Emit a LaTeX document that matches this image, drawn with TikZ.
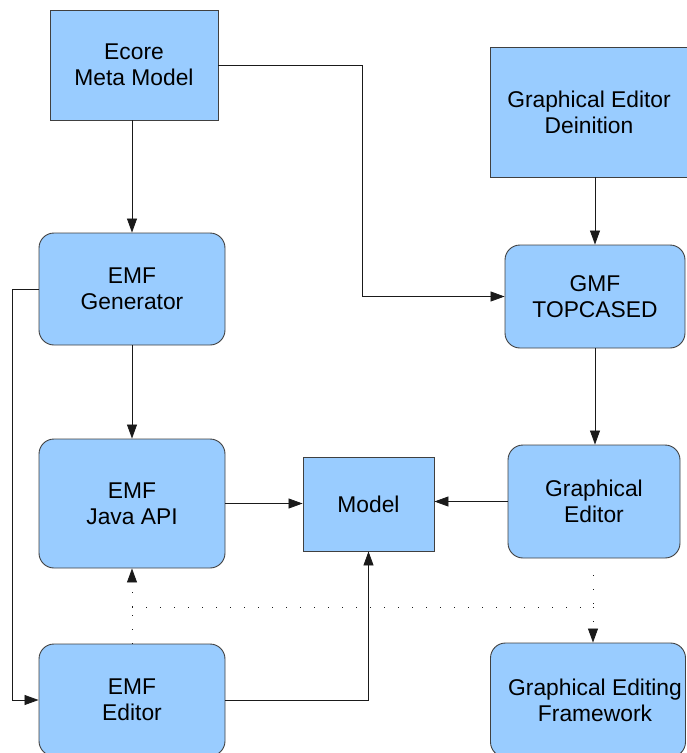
\documentclass[tikz,border=0pt]{standalone}
\usepackage{fontspec}
\setmainfont{Liberation Sans}
\usetikzlibrary{arrows.meta,calc}
\definecolor{boxfill}{HTML}{99CCFF}
\definecolor{boxline}{HTML}{404040}
\definecolor{conn}{HTML}{1A1A1A}
\tikzset{
  base/.style={draw=boxline, fill=boxfill, line width=0.9pt, align=center, inner sep=0pt,
    font=\fontsize{22.8}{26}\selectfont},
  sqbox/.style={base},
  rbox/.style={base, rounded corners=15pt},
  conn/.style={draw=conn, line width=0.8pt, -{Triangle[length=14pt,width=10pt]}},
  dotconn/.style={draw=conn, line width=1pt, dash pattern=on 1pt off 13pt}
}
\begin{document}
\begin{tikzpicture}[x=1pt,y=-1pt]
\useasboundingbox (0,0) rectangle (687,753);
\node[sqbox, minimum width=168pt, minimum height=110pt] (ecore) at (134,65) {Ecore\\Meta Model};
\node[sqbox, minimum width=198pt, minimum height=130pt] (ged) at (589,112) {Graphical Editor\\Deinition};
\node[rbox, minimum width=186pt, minimum height=112pt] (gen) at (132,289) {EMF\\Generator};
\node[rbox, minimum width=180pt, minimum height=103pt] (gmf) at (595,296.5) {GMF\\TOPCASED};
\node[rbox, minimum width=186pt, minimum height=129pt] (api) at (132,503.5) {EMF\\Java API};
\node[sqbox, minimum width=131pt, minimum height=94pt] (model) at (368.5,504) {Model};
\node[rbox, minimum width=172pt, minimum height=113pt] (ge) at (594,501.5) {Graphical\\Editor};
\node[rbox, minimum width=186pt, minimum height=112pt] (editor) at (132,700) {EMF\\Editor};
\node[rbox, minimum width=195pt, minimum height=114pt] (gef) at (588,700) {\hspace*{14pt}Graphical Editing\\\hspace*{14pt}Framework};
\coordinate (j1) at (132,607);
\coordinate (j2) at (593,607);

\draw[conn] (gen.north |- ecore.south) -- (gen.north);
\draw[conn] (ecore.east) -- ++(144,0) |- (gmf.west);
\draw[conn] (gmf.north |- ged.south) -- (gmf.north);
\draw[conn] (gmf.south) -- (gmf.south |- ge.north);
\draw[conn] (gen.west) -- ++(-26.5,0) |- (editor.west);
\draw[conn] (gen.south) -- (api.north);
\draw[conn] (api.east) -- (model.west |- api.east);
\draw[conn] (ge.west) -- (model.east |- ge.west);
\draw[conn] (editor.east) -| (model.south);
\draw[dotconn] (editor.north) -- (j1);
\draw[conn, dash pattern=on 1pt off 13pt] (j1) -- (api.south);
\draw[dotconn] (j1) -- (j2);
\draw[dotconn] ($(ge.south)+(-1,17)$) -- (j2);
\draw[conn, dash pattern=on 1pt off 13pt] (j2) -- (j2 |- gef.north);
\end{tikzpicture}
\end{document}
